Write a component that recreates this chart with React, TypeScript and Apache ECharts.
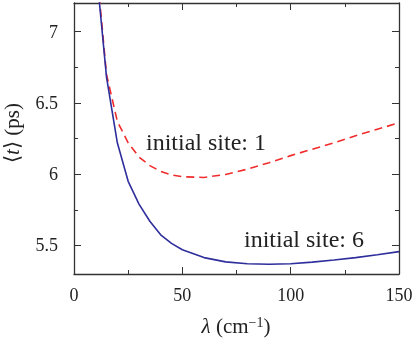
import React, { useEffect, useRef } from "react";
import * as echarts from "echarts";

const lambdaValues = [10, 15, 20, 25, 30, 35, 40, 45, 50, 60, 70, 80, 90, 100, 110, 120, 130, 140, 150];
const site6Values = [7.48, 6.68, 6.22, 5.95, 5.79, 5.67, 5.575, 5.515, 5.47, 5.415, 5.385, 5.372, 5.368, 5.372, 5.383, 5.398, 5.415, 5.435, 5.457];
const site1Values = [7.52, 6.7, 6.37, 6.22, 6.12, 6.06, 6.02, 5.995, 5.982, 5.977, 5.998, 6.035, 6.08, 6.13, 6.175, 6.22, 6.27, 6.315, 6.36];
const yMajorTicks = [5.5, 6, 6.5, 7];
const yMinorTicks = [5.75, 6.25, 6.75];
const xMin = 0;
const xMax = 150;
const yMin = 5.3;
const yMax = 7.2;

const FAMILY = "Liberation Serif, serif";
const AXIS_COLOR = "#333";
const TXT = "#222";

export default function App() {
  const ref = useRef<HTMLDivElement>(null);
  useEffect(() => {
    if (!ref.current) return;
    const chart = echarts.init(ref.current, null, { renderer: "svg" });
    const pairs = (ys: number[]) => lambdaValues.map((x, i) => [x, ys[i]]);
    const serif = (size: number, italic = false) => ({
      fontFamily: FAMILY,
      fontSize: size,
      fontStyle: italic ? "italic" : "normal",
      fill: TXT,
      color: TXT,
    });
    const xBase = {
      type: "value" as const,
      min: xMin,
      max: xMax,
      interval: 50,
      splitLine: { show: false },
      axisLine: { show: true, lineStyle: { color: AXIS_COLOR, width: 1.3 } },
      axisTick: { show: true, inside: true, length: 7, lineStyle: { color: AXIS_COLOR, width: 1 } },
      minorTick: { show: true, splitNumber: 2, length: 4, lineStyle: { color: AXIS_COLOR, width: 1 } },
    };
    const yBase = {
      type: "value" as const,
      min: yMin,
      max: yMax,
      splitLine: { show: false },
    };
    chart.setOption({
      animation: false,
      textStyle: { fontFamily: FAMILY },
      grid: { left: 74, right: 16, top: 3, bottom: 64, containLabel: false, outerBoundsMode: "none" },
      xAxis: [
        {
          ...xBase,
          position: "bottom",
          axisLabel: {
            show: true,
            fontFamily: FAMILY,
            fontSize: 18,
            color: TXT,
            margin: 12,
            formatter: (v: number) => `{a|${v}}`,
            rich: { a: serif(18) },
          },
        },
        {
          ...xBase,
          position: "top",
          axisLabel: { show: false },
        },
      ],
      yAxis: [
        {
          ...yBase,
          position: "left",
          axisLine: { show: true, lineStyle: { color: AXIS_COLOR, width: 1.3 } },
          axisTick: { show: true, inside: true, length: 7, customValues: yMajorTicks, lineStyle: { color: AXIS_COLOR, width: 1 } },
          axisLabel: {
            show: true,
            customValues: yMajorTicks,
            fontFamily: FAMILY,
            fontSize: 18,
            color: TXT,
            margin: 16,
            formatter: (v: number) => `{a|${v}}`,
            rich: { a: serif(18) },
          },
        },
        {
          ...yBase,
          position: "left",
          axisLine: { show: false },
          axisTick: { show: true, inside: true, length: 4, customValues: yMinorTicks, lineStyle: { color: AXIS_COLOR, width: 1 } },
          axisLabel: { show: false },
        },
        {
          ...yBase,
          position: "right",
          axisLine: { show: true, lineStyle: { color: AXIS_COLOR, width: 1.3 } },
          axisTick: { show: true, inside: true, length: 7, customValues: yMajorTicks, lineStyle: { color: AXIS_COLOR, width: 1 } },
          axisLabel: { show: false },
        },
        {
          ...yBase,
          position: "right",
          axisLine: { show: false },
          axisTick: { show: true, inside: true, length: 4, customValues: yMinorTicks, lineStyle: { color: AXIS_COLOR, width: 1 } },
          axisLabel: { show: false },
        },
      ],
      series: [
        {
          name: "initial site: 1",
          type: "line",
          xAxisIndex: 0,
          yAxisIndex: 0,
          data: pairs(site1Values),
          showSymbol: false,
          clip: true,
          lineStyle: { color: "#f02c2c", width: 1.6, type: [8, 5] },
        },
        {
          name: "initial site: 6",
          type: "line",
          xAxisIndex: 0,
          yAxisIndex: 0,
          data: pairs(site6Values),
          showSymbol: false,
          clip: true,
          lineStyle: { color: "#2e2e9c", width: 1.6 },
        },
      ],
      graphic: [
        {
          type: "text",
          left: 146,
          top: 130,
          style: { text: "initial site: 1", ...serif(24) },
        },
        {
          type: "text",
          left: 244,
          top: 227,
          style: { text: "initial site: 6", ...serif(24) },
        },
        {
          type: "text",
          x: 236,
          y: 326,
          style: {
            text: "{i|λ}{r| (cm}{s|−1}{r|)}",
            rich: {
              i: serif(21, true),
              r: serif(21),
              s: { ...serif(14), verticalAlign: "top", padding: [0, 0, 8, 0] },
            },
            ...serif(21),
            align: "center",
            verticalAlign: "middle",
          },
        },
        {
          type: "text",
          x: 12,
          y: 133,
          rotation: Math.PI / 2,
          style: {
            text: "{r|⟨}{i|t}{r|⟩ (ps)}",
            rich: {
              i: serif(21, true),
              r: serif(21),
            },
            ...serif(21),
            align: "center",
            verticalAlign: "middle",
          },
        },
      ],
    });
    return () => chart.dispose();
  }, []);
  return <div ref={ref} style={{ position: "fixed", left: 0, top: 0, width: 415, height: 338 }} />;
}
